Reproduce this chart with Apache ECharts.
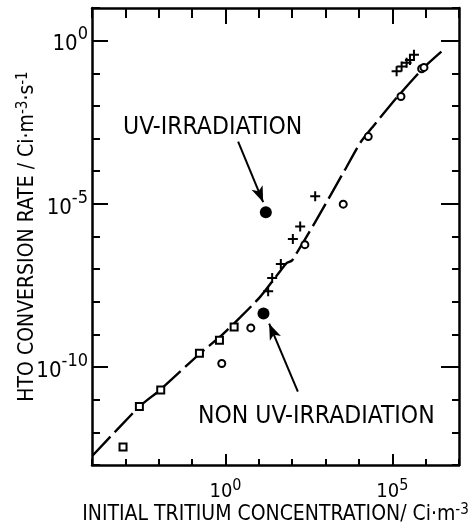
<!DOCTYPE html>
<html>
<head>
<meta charset="utf-8">
<script src="https://cdn.jsdelivr.net/npm/echarts@6/dist/echarts.min.js"></script>
<style>
  html, body { margin: 0; padding: 0; background: #fff; }
  #main { width: 474px; height: 530px; }
  pre { position: absolute; left: 100px; top: 150px; font-size: 9px; color: red; white-space: pre-wrap; width: 350px; }
</style>
</head>
<body>
<div id="main"></div>
<script>
window.onerror = function (msg) {
  document.body.insertAdjacentHTML('beforeend', '<pre>' + msg + '</pre>')
}
// all values are log10 exponents
const squareX = [-3.07, -2.58, -1.94, -0.78, -0.18, 0.26]
const squareY = [-12.45, -11.21, -10.70, -9.58, -9.18, -8.77]
const circleX = [-0.11, 0.76, 2.38, 3.53, 4.28, 5.26, 5.88, 5.95]
const circleY = [-9.89, -8.80, -6.25, -5.01, -2.94, -1.71, -0.86, -0.82]
const plusX = [1.28, 1.40, 1.66, 2.02, 2.24, 2.69, 5.13, 5.28, 5.43, 5.53, 5.65]
const plusY = [-7.68, -7.27, -6.84, -6.08, -5.69, -4.77, -0.94, -0.79, -0.68, -0.59, -0.43]
const uvX = [1.21]
const uvY = [-5.26]
const nonUvX = [1.14]
const nonUvY = [-8.36]
const curveX = [-3.98, -2.58, -1.96, -0.76, -0.16, 0.44, 1.04, 1.58, 1.84, 1.99, 2.18, 2.33, 2.74, 3.58, 4.04, 4.43, 5.13, 5.93, 6.48]
const curveY = [-12.71, -11.21, -10.70, -9.58, -9.07, -8.48, -7.85, -7.14, -6.81, -6.74, -6.43, -6.18, -5.47, -3.96, -3.13, -2.62, -1.75, -0.84, -0.33]
const xLabelTicks = [0, 5]
const yLabelTicks = [0, -5, -10]

const FONT = '"Liberation Sans Narrow", "DejaVu Sans Condensed", "Liberation Sans", sans-serif'
const pair = (xs, ys) => xs.map((x, i) => [x, ys[i]])
const PLUS = 'path://M4,0h2v4h4v2h-4v4h-2v-4h-4v-2h4z'

const chartDom = document.getElementById('main')
const myChart = echarts.init(chartDom)

function powLabel(v) {
  return '{m|10}{s|' + v + '}'
}

const xRich = {
  m: { fontSize: 20, fontFamily: FONT, color: '#000', lineHeight: 24, verticalAlign: 'bottom' },
  s: { fontSize: 16, fontFamily: FONT, color: '#000', lineHeight: 15, verticalAlign: 'top' },
}
const yRich = {
  m: { fontSize: 22, fontFamily: FONT, color: '#000', lineHeight: 30, verticalAlign: 'bottom' },
  s: { fontSize: 18, fontFamily: FONT, color: '#000', lineHeight: 18, verticalAlign: 'top' },
}
const nameRich = {
  t: { fontSize: 21, fontFamily: FONT, color: '#000', lineHeight: 22, verticalAlign: 'bottom' },
  s: { fontSize: 15, fontFamily: FONT, color: '#000', lineHeight: 15, verticalAlign: 'top' },
}

const lineBlack = { color: '#000', width: 2.5 }
const tickBlack = { color: '#000', width: 2 }

function xAxisDef(pos, tickLen, custom, withLine, extra) {
  return Object.assign({
    type: 'value', position: pos, min: -4, max: 7, interval: 1,
    axisLine: { show: withLine, onZero: false, lineStyle: lineBlack },
    axisTick: { show: true, inside: true, length: tickLen, lineStyle: tickBlack, customValues: custom },
    axisLabel: { show: false },
    splitLine: { show: false },
  }, extra || {})
}
function yAxisDef(pos, tickLen, custom, withLine, extra) {
  return Object.assign({
    type: 'value', position: pos, min: -13, max: 1, interval: 1,
    axisLine: { show: withLine, onZero: false, lineStyle: lineBlack },
    axisTick: { show: true, inside: true, length: tickLen, lineStyle: tickBlack, customValues: custom },
    axisLabel: { show: false },
    splitLine: { show: false },
  }, extra || {})
}

const option = {
  animation: false,
  backgroundColor: '#fff',
  grid: { left: 92, right: 15, top: 8, bottom: 63, outerBounds: { left: 0, right: 0, top: 0, bottom: 0 } },
  xAxis: [
    xAxisDef('bottom', 6, undefined, true, {
      axisLabel: { show: true, customValues: xLabelTicks, formatter: powLabel, rich: xRich, margin: 13 },
      name: '{t|INITIAL TRITIUM CONCENTRATION/ Ci·m}{s|-3}',
      nameLocation: 'middle', nameGap: 38, nameMoveOverlap: false,
      nameTextStyle: { rich: nameRich },
    }),
    xAxisDef('top', 10, undefined, true),
    xAxisDef('bottom', 11, xLabelTicks, false),
    xAxisDef('top', 16, xLabelTicks, false),
  ],
  yAxis: [
    yAxisDef('left', 8, undefined, true, {
      axisLabel: { show: true, customValues: yLabelTicks, formatter: powLabel, rich: yRich, margin: 4 },
      name: '{t|HTO CONVERSION RATE / Ci·m}{s|-3}{t|·s}{s|-1}',
      nameLocation: 'middle', nameGap: 54, nameMoveOverlap: false,
      nameTextStyle: { rich: nameRich },
    }),
    yAxisDef('right', 7, undefined, true),
    yAxisDef('left', 16, yLabelTicks, false),
    yAxisDef('right', 18, yLabelTicks, false),
  ],
  series: [
    {
      type: 'line', data: pair(curveX, curveY), symbol: 'none', smooth: 0.2,
      lineStyle: { color: '#000', width: 2.4, type: [26, 6] },
      z: 1,
    },
    {
      type: 'scatter', data: pair(squareX, squareY), symbol: 'rect', symbolSize: 7,
      itemStyle: { color: '#fff', borderColor: '#000', borderWidth: 2, opacity: 1 }, z: 3,
    },
    {
      type: 'scatter', data: pair(circleX, circleY), symbol: 'circle', symbolSize: 7,
      itemStyle: { color: '#fff', borderColor: '#000', borderWidth: 2, opacity: 1 }, z: 3,
    },
    {
      type: 'scatter', data: pair(plusX, plusY), symbol: PLUS, symbolSize: 10,
      itemStyle: { color: '#000', opacity: 1 }, z: 3,
    },
    {
      type: 'scatter', data: pair(uvX, uvY).concat(pair(nonUvX, nonUvY)), symbol: 'circle', symbolSize: 12,
      itemStyle: { color: '#000', opacity: 1 }, z: 3,
      markLine: {
        silent: true,
        symbol: ['none', 'arrow'],
        symbolSize: [9, 16],
        lineStyle: { color: '#000', width: 2, type: 'solid' },
        label: { show: false },
        data: [
          [{ coord: [0.38, -3.09] }, { coord: [1.13, -4.95] }],
          [{ coord: [2.17, -10.75] }, { coord: [1.31, -8.67] }],
        ],
      },
    },
  ],
  graphic: [
    {
      type: 'text', x: 123, y: 128,
      style: { text: 'UV-IRRADIATION', fontSize: 24.5, fontFamily: FONT, fill: '#000', verticalAlign: 'middle' },
    },
    {
      type: 'text', x: 198, y: 417,
      style: { text: 'NON UV-IRRADIATION', fontSize: 24.5, fontFamily: FONT, fill: '#000', verticalAlign: 'middle' },
    },
  ],
}

try {
  myChart.setOption(option)
} catch (e) {
  document.body.insertAdjacentHTML('beforeend', '<pre>' + e.stack + '</pre>')
}
</script>
</body>
</html>
